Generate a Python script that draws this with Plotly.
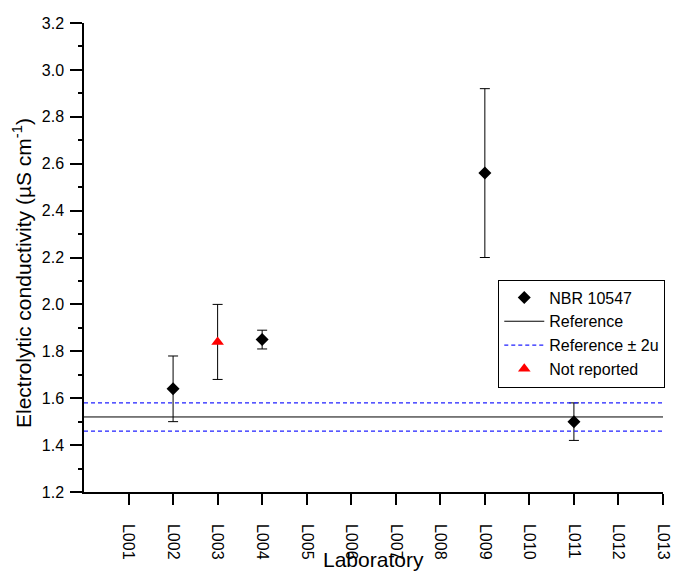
import plotly.graph_objects as go

labels = ["L001","L002","L003","L004","L005","L006","L007","L008","L009","L010","L011","L012","L013"]
lab_x = ["L002", "L004", "L009", "L011"]
lab_val = [1.64, 1.85, 2.56, 1.50]
lab_err = [0.14, 0.04, 0.36, 0.08]
nr_x = ["L003"]
nr_val = [1.84]
nr_err = [0.16]
reference = 1.52
ref_2u = 0.06

pos = {l: i + 1 for i, l in enumerate(labels)}
xr = [0, len(labels)]

fig = go.Figure()
fig.add_trace(go.Scatter(
    x=[pos[l] for l in lab_x], y=lab_val, mode="markers", name="NBR 10547",
    marker=dict(symbol="diamond", size=10, color="black"),
    error_y=dict(type="data", array=lab_err, color="black", thickness=1, width=5),
))
fig.add_trace(go.Scatter(
    x=xr, y=[reference, reference], mode="lines", name="Reference",
    line=dict(color="black", width=1),
))
fig.add_trace(go.Scatter(
    x=[xr[0], xr[1], None, xr[0], xr[1]],
    y=[reference + ref_2u, reference + ref_2u, None, reference - ref_2u, reference - ref_2u],
    mode="lines", name="Reference ± 2u",
    line=dict(color="#2020ff", width=1.2, dash="4px,3px"),
))
fig.add_trace(go.Scatter(
    x=[pos[l] for l in nr_x], y=nr_val, mode="markers", name="Not reported",
    marker=dict(symbol="triangle-up", size=11, color="red"),
    error_y=dict(type="data", array=nr_err, color="black", thickness=1, width=5),
))

fig.update_layout(
    width=688, height=572,
    margin=dict(l=84, r=25, t=23, b=80),
    plot_bgcolor="white", paper_bgcolor="white",
    font=dict(family="Arial, Liberation Sans, sans-serif", color="black", size=16),
    showlegend=True,
    legend=dict(
        x=0.7155, y=0.453, xanchor="left", yanchor="top",
        bordercolor="black", borderwidth=1, bgcolor="white",
        font=dict(size=16), tracegroupgap=0, itemwidth=40,
    ),
    xaxis=dict(
        range=xr, tickmode="array", tickvals=[pos[l] for l in labels], ticktext=labels,
        tickangle=90, ticks="outside", ticklen=11, tickcolor="black", tickwidth=1.5,
        showline=True, linecolor="black", linewidth=1.5, showgrid=False, zeroline=False,
        tickfont=dict(size=16), ticklabelstandoff=16,
    ),
    yaxis=dict(
        range=[1.2, 3.2], dtick=0.2, tickformat=".1f",
        ticks="outside", ticklen=12, tickcolor="black", tickwidth=1.5,
        minor=dict(dtick=0.1, ticks="outside", ticklen=4, tickcolor="black", tickwidth=1.5),
        showline=True, linecolor="black", linewidth=1.5, showgrid=False, zeroline=False,
        tickfont=dict(size=16), ticklabelstandoff=3,
    ),
    annotations=[
        dict(text="Electrolytic conductivity (µS cm<sup>-1</sup>)", textangle=-90,
             xref="paper", yref="paper", x=(22 - 84) / 579, y=(492 - 273) / 469,
             xanchor="center", yanchor="middle", showarrow=False, font=dict(size=21)),
        dict(text="Laboratory", xref="paper", yref="paper",
             x=(373 - 84) / 579, y=(492 - 546) / 469,
             xanchor="center", yanchor="top", showarrow=False, font=dict(size=21)),
    ],
)

fig.write_html("out.html")
